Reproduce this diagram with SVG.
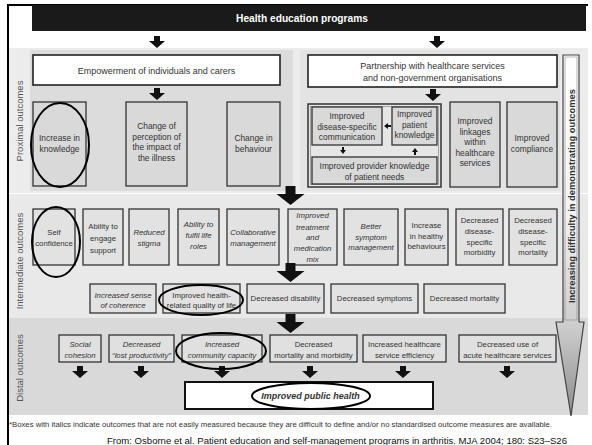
<svg xmlns="http://www.w3.org/2000/svg" width="592" height="445" viewBox="0 0 592 445">
<style>
.t{font-family:"Liberation Sans",Arial,sans-serif;font-size:8.4px;fill:#333;text-anchor:middle}
.s{font-size:7.8px}
.i{font-style:italic}
.big{font-size:9px}
.box{fill:#d9d9d9;stroke:#333;stroke-width:1.3}
.ibox{fill:#e2e2e2;stroke:#333;stroke-width:1.3}
.dbox{fill:#e0e0e0;stroke:#333;stroke-width:1.3}
.wbox{fill:#fff;stroke:#222;stroke-width:1.6}
.ell{fill:none;stroke:#000;stroke-width:2}
.lab{font-family:"Liberation Sans",Arial,sans-serif;font-size:9.5px;fill:#555;text-anchor:middle}
.arr{fill:#111}
</style>
<defs>
<path id="big" d="M-5,0 h10 v8 h9 l-14,11 l-14,-11 h9 z"/>
<path id="med" d="M-3,0 h6 v5 h5 l-8,7 l-8,-7 h5 z"/>
<path id="tiny" d="M-1,0 h2 v3 h2 l-3,4 l-3,-4 h2 z"/>
<linearGradient id="vg" gradientUnits="userSpaceOnUse" x1="0" y1="55" x2="0" y2="416">
<stop offset="0" stop-color="#ffffff"/>
<stop offset="0.45" stop-color="#f2f2f2"/>
<stop offset="0.75" stop-color="#cdcdcd"/>
<stop offset="1" stop-color="#8c8c8c"/>
</linearGradient>
</defs>
<rect width="592" height="445" fill="#fff"/>
<!-- bands -->
<rect x="9" y="48" width="579" height="145" fill="#ececec"/>
<rect x="30" y="50" width="263" height="141" fill="#dcdcdc"/>
<rect x="300" y="50" width="260" height="141" fill="#e3e3e3"/>
<rect x="9" y="194" width="579" height="124" fill="#e9e9e9"/>
<rect x="9" y="318" width="579" height="97" fill="#d9d9d9"/>
<!-- frame -->
<path d="M8,445 V5 H588" fill="none" stroke="#000" stroke-width="2"/>
<g id="header">
<rect x="32" y="5" width="554" height="26" fill="#1a1a1a"/>
<text x="302" y="22" class="t" style="font-size:10.2px;font-weight:bold;fill:#fff">Health education programs</text>
</g>
<text class="lab" transform="translate(23,121) rotate(-90)">Proximal outcomes</text>
<text class="lab" transform="translate(23,261) rotate(-90)">Intermediate outcomes</text>
<text class="lab" transform="translate(23,368) rotate(-90)">Distal outcomes</text>
<!-- vertical arrow -->
<g id="difficulty">
<path d="M563,55 H579 V322 H584 L571,416 L556,322 H563 Z" fill="url(#vg)" stroke="#444" stroke-width="1.2"/>
<rect x="565" y="57" width="12" height="263" fill="none" stroke="#888" stroke-width="0.6"/>
<text class="t" transform="translate(574.5,196) rotate(-90)" style="font-size:9.2px;font-weight:bold;fill:#333" textLength="214" lengthAdjust="spacingAndGlyphs">Increasing difficulty in demonstrating outcomes</text>
</g>
<!-- proximal -->
<g id="empowerment"><rect x="33" y="55" width="247" height="30" class="wbox"/><text x="156.5" y="74" class="t big">Empowerment of individuals and carers</text></g>
<g id="partnership"><rect x="308" y="55" width="249" height="32" class="wbox"/><text x="432.5" y="69" class="t big">Partnership with healthcare services</text><text x="432.5" y="81" class="t big">and non-government organisations</text></g>
<g id="knowledge"><rect x="33" y="102" width="53" height="84" class="box"/><text x="59.5" y="141" class="t">Increase in</text><text x="59.5" y="152" class="t">knowledge</text></g>
<g id="perception"><rect x="126" y="102" width="61" height="84" class="box"/><text x="156.5" y="129" class="t">Change of</text><text x="156.5" y="140" class="t">perception of</text><text x="156.5" y="150" class="t">the impact of</text><text x="156.5" y="160.5" class="t">the illness</text></g>
<g id="behaviour"><rect x="227" y="102" width="53" height="84" class="box"/><text x="253.5" y="141" class="t">Change in</text><text x="253.5" y="152" class="t">behaviour</text></g>
<g id="composite">
<rect x="308" y="104" width="133" height="83" fill="#e6e6e6" stroke="#333" stroke-width="1.5"/>
<rect x="310.5" y="106.5" width="128" height="78" fill="none" stroke="#888" stroke-width="0.7"/>
</g>
<g id="communication"><rect x="312" y="107" width="70" height="38" class="box"/><text x="347" y="119" class="t">Improved</text><text x="347" y="130" class="t">disease-specific</text><text x="347" y="140" class="t">communication</text></g>
<g id="patientknowledge"><rect x="392" y="107" width="45" height="38" class="box"/><text x="414.5" y="116.5" class="t">Improved</text><text x="414.5" y="127.5" class="t">patient</text><text x="414.5" y="138" class="t">knowledge</text></g>
<g id="provider"><rect x="312" y="157" width="125" height="27" class="box"/><text x="374.5" y="169" class="t">Improved provider knowledge</text><text x="374.5" y="179.5" class="t">of patient needs</text></g>
<g id="linkages"><rect x="450" y="102" width="50" height="85" class="box"/><text x="475" y="124" class="t">Improved</text><text x="475" y="134.5" class="t">linkages</text><text x="475" y="145" class="t">within</text><text x="475" y="155.5" class="t">healthcare</text><text x="475" y="166" class="t">services</text></g>
<g id="compliance"><rect x="507" y="102" width="50" height="85" class="box"/><text x="532" y="141" class="t">Improved</text><text x="532" y="152" class="t">compliance</text></g>
<!-- intermediate row 1 -->
<g id="self"><rect x="33" y="209" width="42" height="56" class="ibox"/><text x="54" y="235" class="t s">Self</text><text x="54" y="246" class="t s">confidence</text></g>
<g id="engage"><rect x="83" y="209" width="40" height="56" class="ibox"/><text x="103" y="229" class="t s">Ability to</text><text x="103" y="241" class="t s">engage</text><text x="103" y="253" class="t s">support</text></g>
<g id="stigma"><rect x="129" y="209" width="40" height="56" class="ibox"/><text x="149" y="235" class="t s i">Reduced</text><text x="149" y="245.5" class="t s i">stigma</text></g>
<g id="fulfil"><rect x="178" y="209" width="41" height="56" class="ibox"/><text x="198.5" y="227" class="t s i">Ability to</text><text x="198.5" y="238" class="t s i">fulfil life</text><text x="198.5" y="249" class="t s i">roles</text></g>
<g id="collaborative"><rect x="227" y="209" width="52" height="56" class="ibox"/><text x="253" y="235" class="t s i">Collaborative</text><text x="253" y="245.5" class="t s i">management</text></g>
<g id="treatment"><rect x="288" y="209" width="49" height="56" class="ibox"/><text x="312.5" y="218" class="t s i">Improved</text><text x="312.5" y="229.5" class="t s i">treatment</text><text x="312.5" y="240" class="t s i">and</text><text x="312.5" y="251" class="t s i">medication</text><text x="312.5" y="261.5" class="t s i">mix</text></g>
<g id="symptom"><rect x="344" y="209" width="54" height="56" class="ibox"/><text x="371" y="229" class="t s i">Better</text><text x="371" y="239.5" class="t s i">symptom</text><text x="371" y="249.5" class="t s i">management</text></g>
<g id="healthy"><rect x="405" y="209" width="43" height="56" class="ibox"/><text x="426.5" y="228" class="t s">Increase</text><text x="426.5" y="239" class="t s">in healthy</text><text x="426.5" y="249" class="t s">behaviours</text></g>
<g id="morbidity"><rect x="456" y="209" width="47" height="56" class="ibox"/><text x="479.5" y="223" class="t s">Decreased</text><text x="479.5" y="233.5" class="t s">disease-</text><text x="479.5" y="244.5" class="t s">specific</text><text x="479.5" y="254.5" class="t s">morbidity</text></g>
<g id="dsmortality"><rect x="509" y="209" width="48" height="56" class="ibox"/><text x="533" y="223" class="t s">Decreased</text><text x="533" y="233.5" class="t s">disease-</text><text x="533" y="244.5" class="t s">specific</text><text x="533" y="254.5" class="t s">mortality</text></g>
<!-- intermediate row 2 -->
<g id="coherence"><rect x="90" y="284" width="66" height="29" class="ibox"/><text x="123" y="298" class="t s i">Increased sense</text><text x="123" y="308" class="t s i">of coherence</text></g>
<g id="hrqol"><rect x="163" y="284" width="77" height="29" class="ibox"/><text x="201.5" y="298" class="t s">Improved health-</text><text x="201.5" y="308" class="t s">related quality of life</text></g>
<g id="disability"><rect x="247" y="284" width="77" height="29" class="ibox"/><text x="285.5" y="301" class="t s">Decreased disability</text></g>
<g id="symptoms"><rect x="331" y="284" width="87" height="29" class="ibox"/><text x="374.5" y="301" class="t s">Decreased symptoms</text></g>
<g id="mortality"><rect x="424" y="284" width="81" height="29" class="ibox"/><text x="464.5" y="301" class="t s">Decreased mortality</text></g>
<!-- distal -->
<g id="social"><rect x="59" y="335" width="42" height="27" class="dbox"/><text x="80" y="347" class="t s i">Social</text><text x="80" y="357.5" class="t s i">cohesion</text></g>
<g id="productivity"><rect x="109" y="335" width="65" height="27" class="dbox"/><text x="141.5" y="347" class="t s i">Decreased</text><text x="141.5" y="357.5" class="t s i">“lost productivity”</text></g>
<g id="community"><rect x="182" y="335" width="80" height="27" class="dbox"/><text x="222" y="347" class="t s i">Increased</text><text x="222" y="357.5" class="t s i">community capacity</text></g>
<g id="mortmorb"><rect x="270" y="335" width="87" height="27" class="dbox"/><text x="313.5" y="347" class="t s">Decreased</text><text x="313.5" y="357.5" class="t s">mortality and morbidity</text></g>
<g id="efficiency"><rect x="363" y="335" width="83" height="27" class="dbox"/><text x="404.5" y="347" class="t s">Increased healthcare</text><text x="404.5" y="357.5" class="t s">service efficiency</text></g>
<g id="acute"><rect x="459" y="335" width="97" height="27" class="dbox"/><text x="507.5" y="347" class="t s">Decreased use of</text><text x="507.5" y="357.5" class="t s">acute healthcare services</text></g>
<g id="publichealth"><rect x="185" y="382" width="248" height="27" fill="#fff" stroke="#111" stroke-width="2"/><text x="310.5" y="399" class="t" style="font-size:9px;font-weight:bold;font-style:italic">Improved public health</text></g>
<!-- connectors -->
<g id="connectors" class="arr">
<use href="#med" x="157" y="36"/>
<use href="#med" x="437" y="36"/>
<use href="#med" x="157" y="88"/>
<use href="#med" x="433" y="89"/>
<use href="#tiny" transform="translate(391,126) rotate(90)"/>
<use href="#tiny" x="343" y="147"/>
<use href="#tiny" transform="translate(415,155) rotate(180)"/>
<use href="#big" x="290.5" y="186"/>
<use href="#big" x="290.5" y="263"/>
<use href="#big" x="290.5" y="314"/>
<use href="#med" x="80" y="366"/>
<use href="#med" x="141" y="366"/>
<use href="#med" x="222" y="366"/>
<use href="#med" x="310" y="366"/>
<use href="#med" x="403" y="366"/>
<use href="#med" x="507" y="366"/>
</g>
<!-- highlight ellipses -->
<g id="highlights">
<ellipse cx="60" cy="145" rx="29" ry="42" class="ell"/>
<ellipse cx="56" cy="242" rx="24" ry="35" class="ell"/>
<ellipse cx="201" cy="300" rx="42" ry="15" class="ell"/>
<ellipse cx="221" cy="351" rx="45" ry="18" class="ell"/>
<ellipse cx="311" cy="396" rx="59" ry="13" class="ell"/>
</g>
<text x="9" y="427" style="font-family:'Liberation Sans',Arial,sans-serif;font-size:6.3px;fill:#333" textLength="543" lengthAdjust="spacingAndGlyphs">*Boxes with italics indicate outcomes that are not easily measured because they are difficult to define and/or no standardised outcome measures are available.</text>
<text x="107" y="443.5" style="font-family:'Liberation Sans',Arial,sans-serif;font-size:9px;fill:#111" textLength="460" lengthAdjust="spacingAndGlyphs">From: Osborne et al. Patient education and self-management programs in arthritis. MJA 2004; 180: S23–S26</text>
</svg>
